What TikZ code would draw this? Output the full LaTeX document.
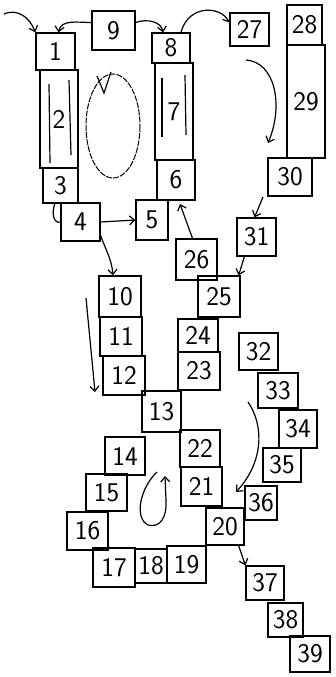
\documentclass[tikz,border=0pt]{standalone}
\usetikzlibrary{arrows.meta}
\tikzset{
  cell/.style={draw,line width=1.3pt,inner sep=0pt,font=\sffamily\fontsize{27}{27}\selectfont},
  arr/.style={line width=1.2pt,-{Straight Barb[length=5pt,width=9pt]}},
  plain/.style={line width=1.2pt},
  loopline/.style={line width=1pt,dash pattern=on 6pt off 1.2pt},
}
\newcommand\cellbox[6]{%
  \pgfmathsetmacro\cw{#4-#2}\pgfmathsetmacro\ch{#5-#3}%
  \pgfmathsetmacro\cx{(#2+#4)/2}\pgfmathsetmacro\cy{(#3+#5)/2}%
  \node[cell,minimum width=\cw pt,minimum height=\ch pt] (#1) at (\cx,\cy) {#6};}
\begin{document}
\begin{tikzpicture}[x=1pt,y=-1pt]
\useasboundingbox (0,0) rectangle (336,677);
\cellbox{c1}{36}{33}{75}{70}{1}
\cellbox{c2}{40}{70}{78}{168}{2}
\cellbox{c3}{43}{168}{78}{203}{3}
\cellbox{c4}{61}{203}{100}{241}{4}
\cellbox{c5}{136}{200}{168}{240}{5}
\cellbox{c6}{157}{160}{195}{200}{6}
\cellbox{c7}{155}{63}{193}{160}{7}
\cellbox{c8}{152}{33}{190}{63}{8}
\cellbox{c9}{92}{11}{135}{50}{9}
\cellbox{c27}{230}{13}{269}{46}{27}
\cellbox{c28}{287}{5}{322}{45}{28}
\cellbox{c29}{287}{45}{325}{158}{29}
\cellbox{c30}{268}{158}{312}{196}{30}
\cellbox{c31}{237}{218}{276}{256}{31}
\cellbox{c26}{176}{239}{217}{280}{26}
\cellbox{c25}{198}{276}{240}{317}{25}
\cellbox{c10}{99}{276}{141}{317}{10}
\cellbox{c11}{100}{317}{142}{356}{11}
\cellbox{c12}{103}{356}{145}{395}{12}
\cellbox{c24}{178}{319}{218}{352}{24}
\cellbox{c23}{178}{352}{220}{390}{23}
\cellbox{c32}{239}{333}{278}{370}{32}
\cellbox{c13}{142}{391}{181}{432}{13}
\cellbox{c33}{258}{373}{298}{408}{33}
\cellbox{c34}{279}{410}{317}{448}{34}
\cellbox{c35}{263}{448}{301}{482}{35}
\cellbox{c14}{105}{437}{145}{475}{14}
\cellbox{c22}{180}{430}{220}{467}{22}
\cellbox{c21}{181}{467}{222}{506}{21}
\cellbox{c36}{245}{486}{277}{520}{36}
\cellbox{c15}{86}{474}{127}{511}{15}
\cellbox{c16}{67}{512}{108}{550}{16}
\cellbox{c20}{206}{508}{244}{545}{20}
\cellbox{c17}{93}{548}{135}{587}{17}
\cellbox{c18}{135}{549}{167}{583}{18}
\cellbox{c19}{167}{546}{206}{583}{19}
\cellbox{c37}{246}{566}{284}{600}{37}
\cellbox{c38}{268}{603}{303}{637}{38}
\cellbox{c39}{290}{636}{330}{672}{39}
% inner lines of tall boxes
\draw[plain] (49,84) -- (50,163);
\draw[plain] (69,80) -- (71,155);
\draw[plain] (162,78) -- (162,137);
\draw[plain] (185,75) -- (186,135);
% arrows
\coordinate (in1) at (4,14);
\draw[arr] (in1) .. controls (18,8) and (30,18) .. (c1.north west);
\draw[arr] ([yshift=8pt]c9.west) to[out=180,in=80] ([xshift=3pt]c1.north);
\draw[arr] ([yshift=8pt]c9.east) to[out=20,in=100] ([xshift=-8pt]c8.north);
\draw[arr] ([xshift=10pt]c8.north) .. controls (188,5) and (220,5) .. ([yshift=7pt]c27.west);
% dashed loop between 2 and 7
\draw[loopline] (113,126) ellipse (27 and 52);
\draw[plain] (97,76) -- (104,93) -- (111,72);
\coordinate (s27) at (246,60);
\coordinate (e30) at (268,143);
\draw[arr] (s27) .. controls (275,62) and (284,105) .. (e30);
\draw[arr] (c4.east) -- (c5.west);
\draw[arr] ([yshift=6pt]c4.south east) to[out=-70,in=95] ([xshift=-7pt]c10.north);
\draw[plain] (55,203) .. controls (51,214) and (54,224) .. (c4.west);
\draw[arr] ([xshift=-4pt]c26.north) -- (180,204);
\coordinate (s30) at (263,197);
\draw[arr] (s30) -- ([xshift=-2pt]c31.north);
\draw[arr] ([xshift=8pt]c31.south west) -- ([xshift=-2pt]c25.north east);
\coordinate (d1) at (86,298);
\coordinate (d2) at (95,392);
\draw[arr] (d1) -- (d2);
\coordinate (s33) at (248,402);
\coordinate (e21) at (236,492);
\draw[arr] (s33) .. controls (264,425) and (264,462) .. (e21);
\coordinate (t1) at (157,472);
\coordinate (t2) at (165,476);
\draw[arr] (t1) .. controls (140,488) and (134,518) .. (148,525) .. controls (160,528) and (167,518) .. (166,500) -- (t2);
\draw[arr] ([xshift=-6pt]c20.south east) -- (c37.north west);
\end{tikzpicture}
\end{document}
